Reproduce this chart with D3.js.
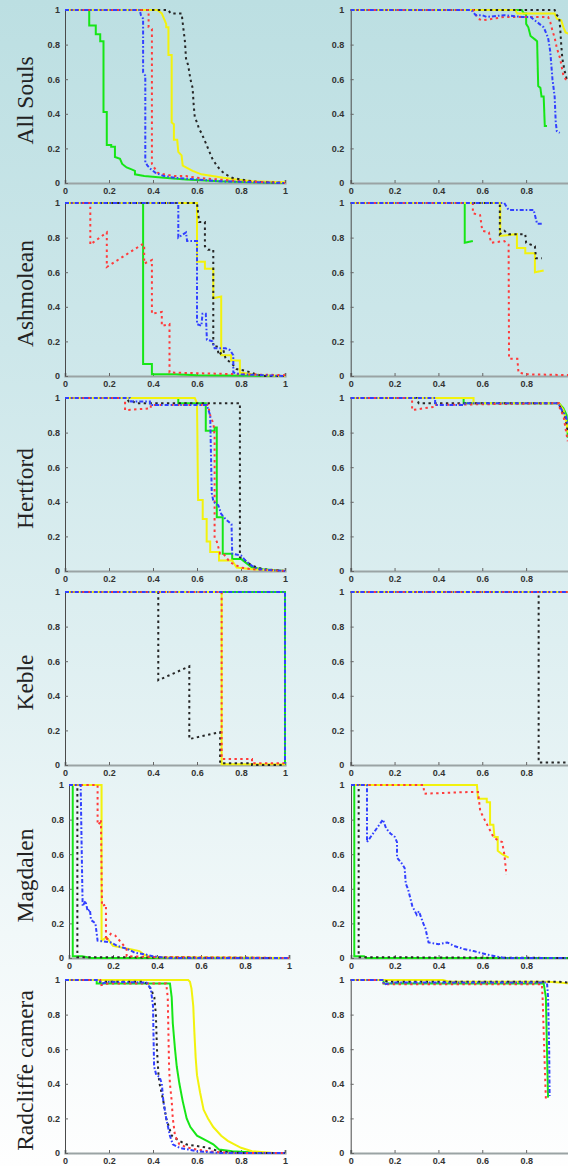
<!DOCTYPE html>
<html>
<head>
<meta charset="utf-8">
<script src="https://cdn.jsdelivr.net/npm/d3@7"></script>
<style>
  html, body { margin: 0; padding: 0; background: #fff; }
  svg { display: block; }
</style>
</head>
<body>
<svg id="chart" width="568" height="1166"></svg>
<script>
// ---------------- DATA ----------------
const colleges = ["All Souls", "Ashmolean", "Hertford", "Keble", "Magdalen", "Radcliffe camera"];
const seriesNames = ["green", "yellow", "black", "red", "blue"];
const xTicks = [0, 0.2, 0.4, 0.6, 0.8, 1];
const xTickLabels = ["0", "0.2", "0.4", "0.6", "0.8", "1"];
const yTicks = [0, 0.2, 0.4, 0.6, 0.8, 1];
const yTickLabels = ["0", "0.2", "0.4", "0.6", "0.8", "1"];

// All Souls
const allSouls_L_green = [[0,1],[0.11,1],[0.11,0.91],[0.14,0.91],[0.14,0.86],[0.16,0.86],[0.16,0.82],[0.175,0.82],[0.175,0.41],[0.19,0.41],[0.19,0.22],[0.21,0.22],[0.21,0.21],[0.227,0.21],[0.227,0.15],[0.25,0.14],[0.26,0.11],[0.28,0.09],[0.3,0.08],[0.318,0.07],[0.318,0.05],[0.36,0.04],[0.45,0.03],[0.55,0.02],[0.7,0.01],[0.85,0.005],[1,0]];
const allSouls_L_yellow = [[0,1],[0.42,1],[0.44,0.98],[0.46,0.92],[0.46,0.9],[0.47,0.9],[0.47,0.74],[0.485,0.74],[0.485,0.35],[0.495,0.34],[0.495,0.25],[0.51,0.25],[0.515,0.18],[0.53,0.16],[0.535,0.1],[0.55,0.09],[0.58,0.07],[0.62,0.05],[0.67,0.04],[0.72,0.03],[0.78,0.02],[0.85,0.01],[1,0.005]];
const allSouls_L_black = [[0,1],[0.47,1],[0.48,0.98],[0.53,0.98],[0.545,0.82],[0.55,0.72],[0.56,0.68],[0.57,0.6],[0.58,0.55],[0.585,0.45],[0.59,0.38],[0.6,0.35],[0.61,0.31],[0.62,0.29],[0.63,0.26],[0.64,0.23],[0.65,0.2],[0.66,0.17],[0.67,0.14],[0.68,0.12],[0.69,0.1],[0.71,0.07],[0.73,0.05],[0.76,0.03],[0.8,0.02],[0.85,0.01],[0.9,0.005],[1,0]];
const allSouls_L_red = [[0,1],[0.38,1],[0.38,0.9],[0.395,0.89],[0.395,0.11],[0.41,0.08],[0.42,0.06],[0.45,0.05],[0.5,0.04],[0.55,0.04],[0.6,0.03],[0.7,0.02],[0.8,0.01],[0.9,0.005],[1,0]];
const allSouls_L_blue = [[0,1],[0.34,1],[0.345,0.97],[0.355,0.95],[0.355,0.64],[0.365,0.62],[0.365,0.12],[0.375,0.1],[0.39,0.08],[0.41,0.06],[0.45,0.04],[0.5,0.03],[0.6,0.02],[0.7,0.01],[0.85,0.005],[1,0]];

const allSouls_R_green = [[0,1],[0.78,1],[0.79,0.98],[0.8,0.98],[0.8,0.92],[0.81,0.9],[0.82,0.85],[0.84,0.83],[0.85,0.82],[0.855,0.56],[0.865,0.55],[0.87,0.5],[0.88,0.5],[0.885,0.33],[0.895,0.33]];
const allSouls_R_yellow = [[0,1],[0.75,1],[0.76,0.98],[0.93,0.98],[0.94,0.95],[0.96,0.94],[0.97,0.9],[0.98,0.87],[1,0.86]];
const allSouls_R_black = [[0,1],[0.93,1],[0.94,0.97],[0.95,0.96],[0.955,0.9],[0.96,0.8],[0.965,0.72],[0.975,0.65],[0.985,0.6],[1,0.58]];
const allSouls_R_red = [[0,1],[0.56,1],[0.58,0.95],[0.6,0.94],[0.65,0.95],[0.7,0.96],[0.9,0.96],[0.91,0.93],[0.92,0.88],[0.93,0.84],[0.94,0.78],[0.955,0.72],[0.97,0.62],[0.98,0.6],[1,0.59]];
const allSouls_R_blue = [[0,1],[0.55,1],[0.57,0.97],[0.6,0.97],[0.62,0.96],[0.7,0.97],[0.78,0.96],[0.82,0.96],[0.84,0.94],[0.86,0.92],[0.88,0.9],[0.9,0.84],[0.91,0.76],[0.92,0.6],[0.93,0.5],[0.935,0.35],[0.94,0.3],[0.953,0.29]];

// Ashmolean
const ashmolean_L_green = [[0,1],[0.355,1],[0.355,0.07],[0.395,0.07],[0.395,0.01],[0.5,0.01],[0.6,0.005],[1,0]];
const ashmolean_L_yellow = [[0,1],[0.6,1],[0.6,0.66],[0.636,0.66],[0.636,0.62],[0.674,0.62],[0.674,0.45],[0.71,0.46],[0.71,0.12],[0.755,0.12],[0.755,0.09],[0.795,0.09],[0.795,0.02],[0.85,0.01],[0.9,0.005],[1,0]];
const ashmolean_L_black = [[0,1],[0.6,1],[0.61,0.89],[0.636,0.89],[0.636,0.75],[0.65,0.73],[0.674,0.73],[0.674,0.17],[0.69,0.17],[0.7,0.12],[0.72,0.15],[0.73,0.1],[0.76,0.07],[0.78,0.04],[0.82,0.03],[0.87,0.01],[0.9,0],[1,0]];
const ashmolean_L_red = [[0,1],[0.115,1],[0.115,0.76],[0.19,0.83],[0.19,0.63],[0.35,0.76],[0.36,0.76],[0.36,0.65],[0.395,0.67],[0.395,0.36],[0.44,0.37],[0.44,0.29],[0.475,0.3],[0.475,0.02],[0.8,0.01],[1,0.005]];
const ashmolean_L_blue = [[0,1],[0.515,1],[0.515,0.8],[0.55,0.83],[0.555,0.78],[0.6,0.78],[0.6,0.3],[0.62,0.29],[0.625,0.36],[0.64,0.36],[0.645,0.21],[0.67,0.2],[0.68,0.16],[0.73,0.16],[0.75,0.15],[0.765,0.12],[0.765,0.02],[0.8,0.01],[1,0]];

const ashmolean_R_green = [[0,1],[0.52,1],[0.52,0.77],[0.557,0.78]];
const ashmolean_R_yellow = [[0,1],[0.682,1],[0.682,0.81],[0.758,0.82],[0.758,0.74],[0.796,0.74],[0.796,0.71],[0.84,0.71],[0.84,0.6],[0.88,0.61]];
const ashmolean_R_black = [[0,1],[0.68,1],[0.68,0.82],[0.7,0.84],[0.72,0.82],[0.796,0.82],[0.8,0.77],[0.84,0.75],[0.845,0.68],[0.872,0.68]];
const ashmolean_R_red = [[0,1],[0.557,1],[0.557,0.94],[0.59,0.93],[0.6,0.84],[0.63,0.83],[0.64,0.77],[0.7,0.78],[0.72,0.76],[0.722,0.1],[0.76,0.1],[0.765,0.02],[0.8,0.01],[1,0.005]];
const ashmolean_R_blue = [[0,1],[0.7,1],[0.72,0.96],[0.834,0.96],[0.85,0.88],[0.872,0.88]];

// Hertford
const hertford_L_green = [[0,1],[0.515,1],[0.515,0.97],[0.64,0.97],[0.64,0.81],[0.68,0.81],[0.68,0.83],[0.69,0.83],[0.69,0.31],[0.717,0.31],[0.717,0.1],[0.76,0.1],[0.76,0.07],[0.8,0.07],[0.82,0.05],[0.85,0.02],[0.9,0.01],[1,0]];
const hertford_L_yellow = [[0,1],[0.59,1],[0.6,0.97],[0.605,0.41],[0.626,0.41],[0.626,0.3],[0.644,0.3],[0.644,0.17],[0.66,0.17],[0.66,0.11],[0.7,0.11],[0.7,0.06],[0.76,0.06],[0.78,0.02],[0.85,0.01],[1,0]];
const hertford_L_black = [[0,1],[0.28,1],[0.29,0.98],[0.31,0.98],[0.32,0.97],[0.795,0.97],[0.795,0.08],[0.81,0.07],[0.83,0.05],[0.85,0.03],[0.9,0.01],[1,0]];
const hertford_L_red = [[0,1],[0.273,1],[0.273,0.93],[0.39,0.94],[0.39,0.96],[0.65,0.96],[0.66,0.9],[0.675,0.85],[0.68,0.78],[0.68,0.19],[0.69,0.17],[0.705,0.1],[0.72,0.1],[0.75,0.05],[0.8,0.02],[0.85,0.01],[1,0]];
const hertford_L_blue = [[0,1],[0.295,1],[0.3,0.98],[0.386,0.98],[0.386,0.96],[0.644,0.96],[0.66,0.9],[0.667,0.45],[0.675,0.4],[0.697,0.38],[0.71,0.33],[0.73,0.3],[0.757,0.27],[0.76,0.1],[0.8,0.09],[0.82,0.06],[0.85,0.03],[0.88,0.01],[1,0]];

const hertford_R_green = [[0,1],[0.515,1],[0.515,0.97],[0.95,0.97],[0.97,0.94],[0.985,0.9],[0.99,0.77]];
const hertford_R_yellow = [[0,1],[0.56,1],[0.56,0.97],[0.95,0.97],[0.97,0.93],[0.985,0.85],[0.99,0.8]];
const hertford_R_black = [[0,1],[0.3,1],[0.31,0.97],[0.95,0.97],[0.96,0.93],[0.98,0.88],[0.99,0.8]];
const hertford_R_red = [[0,1],[0.28,1],[0.28,0.93],[0.385,0.95],[0.385,0.96],[0.95,0.97],[0.955,0.93],[0.97,0.9],[0.98,0.82],[0.99,0.75]];
const hertford_R_blue = [[0,1],[0.385,1],[0.385,0.96],[0.52,0.96],[0.52,0.97],[0.94,0.97],[0.95,0.96],[0.963,0.93],[0.98,0.9],[0.99,0.85]];

// Keble
const keble_L_green = [[0,1],[1,1],[1,0]];
const keble_L_yellow = [[0,1],[0.712,1],[0.712,0.005],[1,0.005]];
const keble_L_black = [[0,1],[0.424,1],[0.424,0.49],[0.565,0.57],[0.565,0.15],[0.705,0.19],[0.705,0.01],[0.85,0.01],[0.85,0],[1,0]];
const keble_L_red = [[0,1],[0.712,1],[0.712,0.035],[0.85,0.035],[0.85,0.01],[1,0.01]];
const keble_L_blue = [[0,1],[1,1],[1,0]];

const keble_R_green = [[0,1],[1,1]];
const keble_R_yellow = [[0,1],[1,1]];
const keble_R_black = [[0,1],[0.857,1],[0.857,0.015],[1,0.015]];
const keble_R_red = [[0,1],[1,1]];
const keble_R_blue = [[0,1],[1,1]];

// Magdalen
const magdalen_L_green = [[0,1],[0.017,1],[0.017,0.01],[0.06,0.01],[0.1,0],[1,0]];
const magdalen_L_yellow = [[0,1],[0.148,1],[0.148,0.1],[0.17,0.12],[0.2,0.07],[0.24,0.06],[0.28,0.05],[0.32,0.04],[0.34,0.02],[0.36,0.01],[0.4,0.005],[1,0]];
const magdalen_L_black = [[0,1],[0.038,1],[0.038,0.005],[1,0]];
const magdalen_L_red = [[0,1],[0.13,1],[0.13,0.77],[0.14,0.78],[0.145,0.8],[0.15,0.3],[0.168,0.31],[0.168,0.1],[0.19,0.14],[0.21,0.13],[0.23,0.1],[0.25,0.07],[0.262,0.05],[0.262,0.01],[0.4,0.005],[1,0]];
const magdalen_L_blue = [[0,1],[0.053,1],[0.058,0.6],[0.062,0.3],[0.075,0.33],[0.085,0.27],[0.095,0.28],[0.1,0.22],[0.12,0.2],[0.13,0.1],[0.19,0.09],[0.22,0.07],[0.27,0.05],[0.3,0.03],[0.35,0.02],[0.38,0.01],[0.45,0],[1,0]];

const magdalen_R_green = [[0,1],[0.015,1],[0.015,0.01],[0.06,0.01],[0.07,0],[1,0]];
const magdalen_R_yellow = [[0,1],[0.575,1],[0.58,0.92],[0.62,0.92],[0.62,0.9],[0.635,0.9],[0.635,0.77],[0.65,0.77],[0.655,0.7],[0.67,0.7],[0.67,0.62],[0.69,0.6],[0.72,0.58]];
const magdalen_R_black = [[0,1],[0.035,1],[0.035,0.005],[1,0]];
const magdalen_R_red = [[0,1],[0.33,1],[0.335,0.95],[0.55,0.96],[0.58,0.96],[0.59,0.85],[0.61,0.8],[0.63,0.75],[0.65,0.7],[0.67,0.68],[0.69,0.67],[0.7,0.6],[0.71,0.48]];
const magdalen_R_blue = [[0,1],[0.073,1],[0.073,0.67],[0.146,0.8],[0.16,0.75],[0.18,0.72],[0.2,0.7],[0.21,0.67],[0.21,0.58],[0.23,0.55],[0.245,0.52],[0.25,0.43],[0.26,0.4],[0.27,0.35],[0.28,0.3],[0.3,0.25],[0.31,0.27],[0.33,0.2],[0.34,0.17],[0.354,0.09],[0.4,0.08],[0.44,0.09],[0.47,0.07],[0.52,0.05],[0.56,0.04],[0.62,0.02],[0.66,0.01],[0.7,0],[1,0]];

// Radcliffe camera
const radcliffe_L_green = [[0,1],[0.144,1],[0.144,0.98],[0.477,0.98],[0.48,0.95],[0.485,0.9],[0.49,0.75],[0.5,0.6],[0.508,0.5],[0.52,0.4],[0.535,0.3],[0.553,0.2],[0.57,0.15],[0.6,0.1],[0.645,0.07],[0.674,0.05],[0.7,0.02],[0.76,0.01],[0.9,0],[1,0]];
const radcliffe_L_yellow = [[0,1],[0.56,1],[0.568,0.99],[0.575,0.95],[0.583,0.85],[0.588,0.7],[0.594,0.55],[0.6,0.45],[0.614,0.35],[0.63,0.25],[0.65,0.2],[0.674,0.15],[0.71,0.1],[0.74,0.07],[0.77,0.05],[0.8,0.03],[0.85,0.01],[0.95,0],[1,0]];
const radcliffe_L_black = [[0,1],[0.144,1],[0.15,0.99],[0.356,0.99],[0.37,0.98],[0.39,0.95],[0.406,0.9],[0.413,0.8],[0.418,0.6],[0.425,0.45],[0.43,0.4],[0.447,0.3],[0.46,0.2],[0.485,0.1],[0.52,0.07],[0.55,0.05],[0.6,0.04],[0.65,0.03],[0.7,0.01],[0.8,0],[1,0]];
const radcliffe_L_red = [[0,1],[0.16,1],[0.16,0.97],[0.2,0.98],[0.46,0.98],[0.467,0.9],[0.47,0.7],[0.473,0.5],[0.477,0.4],[0.485,0.3],[0.49,0.2],[0.5,0.1],[0.52,0.05],[0.56,0.03],[0.6,0.02],[0.65,0.01],[0.75,0],[1,0]];
const radcliffe_L_blue = [[0,1],[0.15,1],[0.17,0.98],[0.2,0.99],[0.37,0.985],[0.39,0.95],[0.4,0.85],[0.402,0.7],[0.405,0.5],[0.415,0.45],[0.43,0.44],[0.44,0.4],[0.447,0.3],[0.46,0.2],[0.477,0.1],[0.49,0.05],[0.52,0.03],[0.56,0.02],[0.6,0.01],[0.7,0],[1,0]];

const radcliffe_R_green = [[0,1],[0.15,1],[0.15,0.98],[0.88,0.98],[0.89,0.9],[0.895,0.6],[0.9,0.32]];
const radcliffe_R_yellow = [[0,1],[0.42,1],[0.45,0.99],[0.9,0.99],[0.95,0.985],[1,0.98]];
const radcliffe_R_black = [[0,1],[0.15,1],[0.17,0.99],[0.88,0.99],[0.95,0.99],[1,0.985]];
const radcliffe_R_red = [[0,1],[0.15,1],[0.15,0.975],[0.872,0.975],[0.875,0.9],[0.88,0.7],[0.885,0.5],[0.89,0.31]];
const radcliffe_R_blue = [[0,1],[0.15,1],[0.15,0.975],[0.2,0.985],[0.895,0.985],[0.9,0.9],[0.905,0.6],[0.907,0.33]];

// ---------------- ASSEMBLY ----------------
const panelData = [
  [
    {green: allSouls_L_green, yellow: allSouls_L_yellow, black: allSouls_L_black, red: allSouls_L_red, blue: allSouls_L_blue},
    {green: allSouls_R_green, yellow: allSouls_R_yellow, black: allSouls_R_black, red: allSouls_R_red, blue: allSouls_R_blue}
  ],
  [
    {green: ashmolean_L_green, yellow: ashmolean_L_yellow, black: ashmolean_L_black, red: ashmolean_L_red, blue: ashmolean_L_blue},
    {green: ashmolean_R_green, yellow: ashmolean_R_yellow, black: ashmolean_R_black, red: ashmolean_R_red, blue: ashmolean_R_blue}
  ],
  [
    {green: hertford_L_green, yellow: hertford_L_yellow, black: hertford_L_black, red: hertford_L_red, blue: hertford_L_blue},
    {green: hertford_R_green, yellow: hertford_R_yellow, black: hertford_R_black, red: hertford_R_red, blue: hertford_R_blue}
  ],
  [
    {green: keble_L_green, yellow: keble_L_yellow, black: keble_L_black, red: keble_L_red, blue: keble_L_blue},
    {green: keble_R_green, yellow: keble_R_yellow, black: keble_R_black, red: keble_R_red, blue: keble_R_blue}
  ],
  [
    {green: magdalen_L_green, yellow: magdalen_L_yellow, black: magdalen_L_black, red: magdalen_L_red, blue: magdalen_L_blue},
    {green: magdalen_R_green, yellow: magdalen_R_yellow, black: magdalen_R_black, red: magdalen_R_red, blue: magdalen_R_blue}
  ],
  [
    {green: radcliffe_L_green, yellow: radcliffe_L_yellow, black: radcliffe_L_black, red: radcliffe_L_red, blue: radcliffe_L_blue},
    {green: radcliffe_R_green, yellow: radcliffe_R_yellow, black: radcliffe_R_black, red: radcliffe_R_red, blue: radcliffe_R_blue}
  ]
];

// ---------------- LAYOUT / STYLE ----------------
const W = 568, H = 1166;
const rowTops = [10, 203, 398, 592, 785, 980];
const panelH = 173;
const leftRange = r => r === 4 ? [69, 289] : [65, 285];
const rightRange = r => r === 4 ? [351, 570] : [350.7, 570];

const styles = {
  green:  {stroke: "#19e619", dash: null},
  yellow: {stroke: "#f2f20c", dash: null},
  black:  {stroke: "#262626", dash: "2.4,3.4"},
  red:    {stroke: "#ff3b3b", dash: "2.4,3.4"},
  blue:   {stroke: "#3340ff", dash: "4,2,1.6,2"}
};

const svg = d3.select("#chart");
const defs = svg.append("defs");
const grad = defs.append("linearGradient").attr("id", "bg").attr("x1", 0).attr("y1", 0).attr("x2", 0).attr("y2", 1);
[[0, "#bcdfe2"], [0.3, "#cde7ea"], [0.55, "#deeff1"], [0.8, "#f1f8f9"], [1, "#fefefe"]]
  .forEach(([o, c]) => grad.append("stop").attr("offset", o).attr("stop-color", c));
const blur = defs.append("filter").attr("id", "soft").attr("x", "-5%").attr("y", "-5%").attr("width", "110%").attr("height", "110%");
blur.append("feGaussianBlur").attr("stdDeviation", 0.45);

svg.append("rect").attr("width", W).attr("height", H).attr("fill", "url(#bg)");

const line = d3.line().x(d => d[0]).y(d => d[1]);

panelData.forEach((row, r) => {
  const top = rowTops[r];
  const bottom = top + panelH;
  const y = d3.scaleLinear().domain([0, 1]).range([bottom, top]);

  row.forEach((panel, c) => {
    const x = d3.scaleLinear().domain([0, 1]).range(c === 0 ? leftRange(r) : rightRange(r));
    const g = svg.append("g");

    // axes (right-hand panels run past the page edge, so their "1" label is not shown)
    const xTickVals = c === 0 ? xTicks : xTicks.filter(v => x(v) < W - 4);
    const xAxis = d3.axisBottom(x).tickValues(xTickVals).tickFormat(d => xTickLabels[xTicks.indexOf(d)]).tickSize(-3).tickPadding(5);
    const yAxis = d3.axisLeft(y).tickValues(yTicks).tickFormat((d, i) => yTickLabels[i]).tickSize(-3).tickPadding(c === 0 ? 5 : 6.5);

    const gx = g.append("g").attr("transform", `translate(0,${bottom})`).call(xAxis);
    const gy = g.append("g").attr("transform", `translate(${x(0)},0)`).call(yAxis);

    gx.select(".domain").attr("stroke", "#9aa3a4").attr("stroke-width", 2.2);
    gy.select(".domain").attr("stroke", "#4a4a4a").attr("stroke-width", 1);
    gx.selectAll(".tick line").attr("stroke", "#666");
    gy.selectAll(".tick line").attr("stroke", "#666");
    [gx, gy].forEach(a => a.selectAll("text")
      .attr("font-family", "'Liberation Sans', Arial, sans-serif")
      .attr("font-weight", "bold")
      .attr("font-size", 9)
      .attr("fill", "#333"));

    // series
    const lg = g.append("g").attr("filter", "url(#soft)");
    seriesNames.forEach(name => {
      const pts = panel[name].map(p => [x(p[0]), y(p[1])]);
      const st = styles[name];
      lg.append("path")
        .attr("d", line(pts))
        .attr("fill", "none")
        .attr("stroke", st.stroke)
        .attr("stroke-width", 2)
        .attr("stroke-dasharray", st.dash)
        .attr("stroke-linejoin", "miter");
    });
  });

  // row label
  svg.append("text")
    .attr("transform", `translate(33,${top + panelH / 2 + 4}) rotate(-90)`)
    .attr("text-anchor", "middle")
    .attr("font-family", "'Liberation Serif', 'Times New Roman', serif")
    .attr("font-size", 23.5)
    .attr("fill", "#222")
    .text(colleges[r]);
});
</script>
</body>
</html>
